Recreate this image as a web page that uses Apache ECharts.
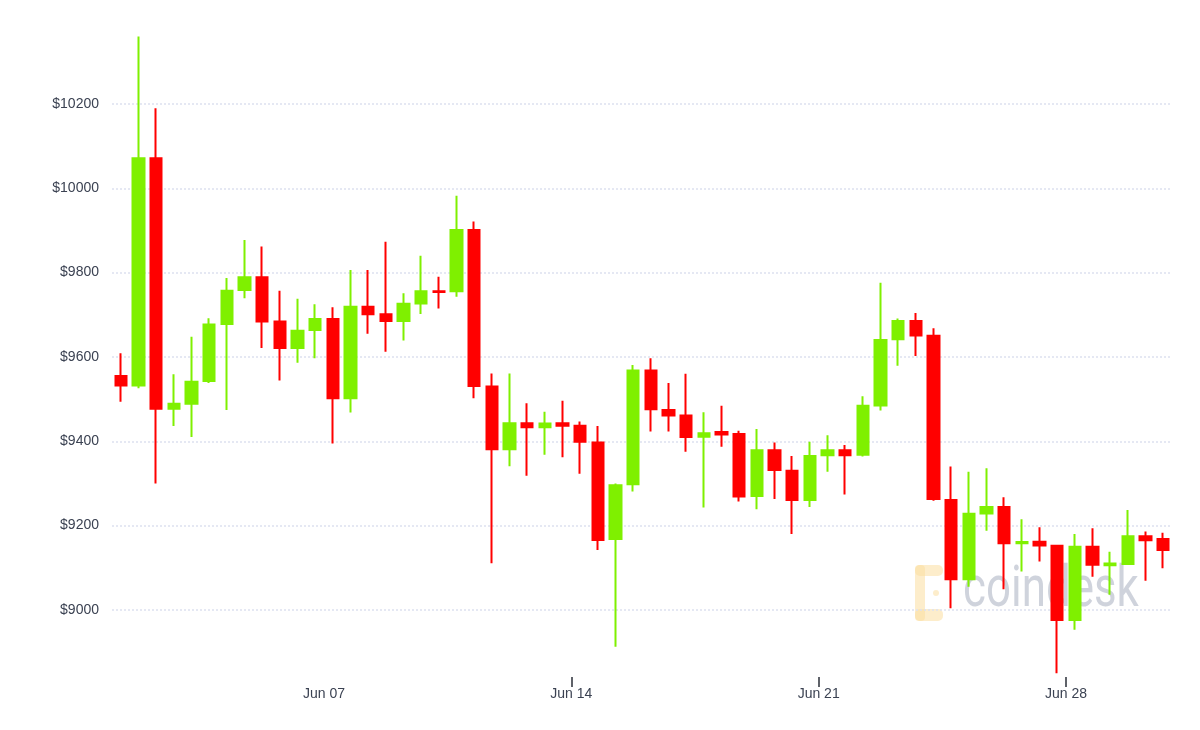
<!DOCTYPE html>
<html>
<head>
<meta charset="utf-8">
<script src="https://cdn.jsdelivr.net/npm/echarts@6/dist/echarts.min.js"></script>
<style>
html,body{margin:0;padding:0;background:#fff;}
#chart{width:1200px;height:730px;}
</style>
</head>
<body>
<div id="chart"></div>
<script>
// 12-hour candles, June 2020 (BTC/USD)
const categories = (function () {
  const out = [];
  for (let d = 1; d <= 30; d++) {
    const dd = (d < 10 ? '0' : '') + d;
    out.push('2020-06-' + dd + ' 00:00');
    out.push('2020-06-' + dd + ' 12:00');
  }
  return out;
})();

const opens  = [9555,9532,10071,9477,9489,9543,9678,9759,9789,9684,9621,9664,
                9690,9502,9719,9701,9685,9727,9756,9756,9901,9530,9381,9443,
                9433,9443,9437,9397,9168,9298,9568,9474,9461,9411,9422,9417,
                9270,9379,9330,9261,9367,9379,9368,9485,9642,9685,9650,9261,
                9073,9229,9244,9158,9162,9152,8976,9150,9106,9109,9175,9168];
const closes = [9532,10071,9477,9489,9541,9677,9757,9789,9684,9621,9662,9690,
                9502,9719,9701,9685,9726,9756,9754,9901,9531,9381,9443,9433,
                9442,9437,9399,9166,9296,9568,9476,9461,9410,9419,9416,9269,
                9379,9332,9261,9365,9379,9367,9484,9640,9685,9651,9263,9073,
                9228,9244,9158,9161,9153,8976,9150,9107,9110,9175,9165,9142];
const lows   = [9494,9526,9300,9436,9410,9538,9474,9739,9621,9544,9586,9597,
                9395,9468,9655,9612,9639,9702,9715,9743,9502,9111,9341,9318,
                9368,9362,9323,9142,8913,9281,9423,9423,9375,9243,9387,9257,
                9239,9263,9180,9244,9328,9274,9364,9473,9579,9602,9259,9004,
                9055,9188,9049,9091,9115,8850,8953,9079,9036,9107,9069,9099];
const highs  = [9609,10360,10190,9559,9648,9692,9787,9877,9862,9757,9738,9725,
                9718,9806,9806,9873,9751,9840,9790,9982,9921,9561,9561,9490,
                9470,9496,9447,9436,9300,9581,9597,9538,9560,9469,9484,9425,
                9429,9397,9365,9399,9414,9391,9507,9776,9691,9704,9668,9340,
                9328,9336,9267,9215,9196,9154,9180,9194,9138,9237,9186,9183];

const yTicks = [9000, 9200, 9400, 9600, 9800, 10000, 10200];
const xTickDates  = ['2020-06-07 00:00', '2020-06-14 00:00', '2020-06-21 00:00', '2020-06-28 00:00'];
const xTickLabels = ['Jun 07', 'Jun 14', 'Jun 21', 'Jun 28'];
const xTickMarkDates = ['2020-06-14 00:00', '2020-06-21 00:00', '2020-06-28 00:00'];

const ohlc = categories.map((c, i) => [opens[i], closes[i], lows[i], highs[i]]);
const xLabelPos = xTickDates.map(d => categories.indexOf(d));
const xTickPos = xTickMarkDates.map(d => categories.indexOf(d));

const GREEN = '#7ff000';
const RED = '#ff0000';
const labelColor = '#3b4252';
const font = 'Liberation Sans, Arial, sans-serif';

const chart = echarts.init(document.getElementById('chart'), null, {renderer: 'canvas'});
chart.setOption({
  animation: false,
  backgroundColor: '#ffffff',
  grid: {left: 112, right: 28, top: 20, bottom: 53, containLabel: false},
  xAxis: [
    {
      type: 'category',
      data: categories,
      boundaryGap: true,
      position: 'bottom',
      axisLine: {show: false},
      axisTick: {show: false},
      axisLabel: {show: false},
      splitLine: {show: false}
    },
    {
      type: 'value',
      min: 0,
      max: categories.length,
      position: 'bottom',
      offset: 0,
      axisLine: {show: false, onZero: false},
      axisTick: {show: true, length: 10, customValues: xTickPos,
                 lineStyle: {color: '#2b2f38', width: 1.5}},
      axisLabel: {
        customValues: xLabelPos,
        margin: 10,
        color: labelColor,
        fontSize: 14,
        fontFamily: font,
        formatter: function (v) {
          const k = xLabelPos.indexOf(Math.round(v));
          return k >= 0 ? xTickLabels[k] : '';
        }
      },
      splitLine: {show: false}
    }
  ],
  yAxis: {
    type: 'value',
    min: 8841,
    max: 10399,
    axisLine: {show: false, onZero: false},
    axisTick: {show: false, customValues: yTicks},
    axisLabel: {
      customValues: yTicks,
      margin: 13,
      color: labelColor,
      fontSize: 14,
      fontFamily: font,
      formatter: v => '$' + v
    },
    splitLine: {show: true, lineStyle: {color: '#dde1ef', width: 1.5, type: [2, 2]}}
  },
  graphic: [
    {
      type: 'group',
      z: 1,
      silent: true,
      children: [
        {type: 'rect', shape: {x: 915, y: 565, width: 10, height: 56, r: 4},
         style: {fill: 'rgba(252,222,160,0.55)'}},
        {type: 'rect', shape: {x: 915, y: 565, width: 28, height: 11, r: 5},
         style: {fill: 'rgba(252,222,160,0.55)'}},
        {type: 'rect', shape: {x: 915, y: 609, width: 28, height: 12, r: 5},
         style: {fill: 'rgba(252,222,160,0.55)'}},
        {type: 'circle', shape: {cx: 936, cy: 593, r: 3},
         style: {fill: 'rgba(252,222,160,0.55)'}},
        {type: 'text', x: 963, y: 592, scaleX: 0.77, scaleY: 1,
         style: {text: 'coindesk', fontSize: 57, fontFamily: 'Roboto, sans-serif',
                 fill: 'rgba(175,181,196,0.6)', align: 'left', verticalAlign: 'middle'}}
      ]
    }
  ],
  series: [{
    type: 'candlestick',
    xAxisIndex: 0,
    yAxisIndex: 0,
    data: ohlc,
    barWidth: 12,
    z: 3,
    itemStyle: {
      color: GREEN,
      color0: RED,
      borderColor: GREEN,
      borderColor0: RED,
      borderWidth: 2
    }
  }]
});
</script>
</body>
</html>
